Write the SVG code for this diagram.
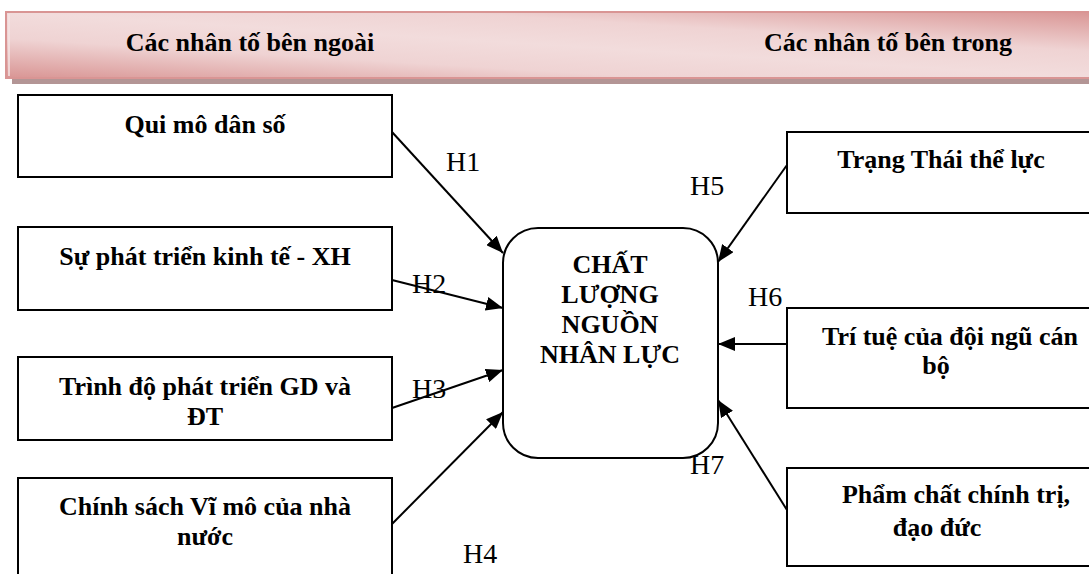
<svg xmlns="http://www.w3.org/2000/svg" width="1089" height="574" viewBox="0 0 1089 574">
<defs>
<linearGradient id="hdr" x1="0" y1="1" x2="1" y2="0">
<stop offset="0" stop-color="#d99594"/>
<stop offset="0.3" stop-color="#efd3d3"/>
<stop offset="0.5" stop-color="#f2dcdc"/>
<stop offset="0.7" stop-color="#efd3d3"/>
<stop offset="1" stop-color="#d99594"/>
</linearGradient>
<marker id="ah" markerUnits="userSpaceOnUse" markerWidth="18" markerHeight="14" refX="17" refY="7" orient="auto">
<path d="M0,0 L17,7 L0,14 Z" fill="#000"/>
</marker>
</defs>
<style>
.box{fill:#fff;stroke:#000;stroke-width:2}
text{font-family:'Liberation Serif','Times New Roman','DejaVu Serif',serif;fill:#000}
.t{font-weight:bold;font-size:26px;text-anchor:middle}
.h{font-size:28px}
.c line{stroke:#000;stroke-width:2;marker-end:url(#ah)}
</style>
<rect width="1089" height="574" fill="#fff"/>
<g id="header">
<rect x="12" y="17" width="1090" height="67" fill="#b39595"/>
<rect x="6" y="12" width="1090" height="66" fill="url(#hdr)" stroke="#d99594" stroke-width="2"/>
<line x1="9" y1="14" x2="9" y2="76" stroke="#f6e4e4" stroke-width="1.5"/>
<text class="t" x="250" y="51">Các nhân tố bên ngoài</text>
<text class="t" x="888" y="51">Các nhân tố bên trong</text>
</g>
<g id="n1">
<rect class="box" x="18" y="95" width="374" height="82"/>
<text class="t" x="205" y="133">Qui mô dân số</text>
</g>
<g id="n2">
<rect class="box" x="18" y="227" width="374" height="83"/>
<text class="t" x="205" y="265">Sự phát triển kinh tế - XH</text>
</g>
<g id="n3">
<rect class="box" x="18" y="357" width="374" height="83"/>
<text class="t" x="205" y="395">Trình độ phát triển GD và</text>
<text class="t" x="205" y="425">ĐT</text>
</g>
<g id="n4">
<rect class="box" x="18" y="478" width="374" height="120"/>
<text class="t" x="205" y="515">Chính sách Vĩ mô của nhà</text>
<text class="t" x="205" y="545">nước</text>
</g>
<g id="center">
<rect class="box" x="503" y="228" width="215" height="230" rx="35" ry="35"/>
<text class="t" x="610" y="273">CHẤT</text>
<text class="t" x="610" y="303">LƯỢNG</text>
<text class="t" x="610" y="333">NGUỒN</text>
<text class="t" x="610" y="363">NHÂN LỰC</text>
</g>
<g id="n5">
<rect class="box" x="787" y="132" width="310" height="81"/>
<text class="t" x="941" y="168">Trạng Thái thể lực</text>
</g>
<g id="n6">
<rect class="box" x="787" y="308" width="310" height="100"/>
<text class="t" x="950" y="345">Trí tuệ của đội ngũ cán</text>
<text class="t" x="936" y="374">bộ</text>
</g>
<g id="n7">
<rect class="box" x="787" y="468" width="310" height="98"/>
<text class="t" x="956" y="503">Phẩm chất chính trị,</text>
<text class="t" x="937" y="536">đạo đức</text>
</g>
<g id="connectors" class="c">
<line x1="392" y1="132" x2="503" y2="253"/>
<line x1="392" y1="280" x2="503" y2="308"/>
<line x1="392" y1="408" x2="503" y2="370"/>
<line x1="392" y1="524" x2="503" y2="412"/>
<line x1="787" y1="165" x2="718" y2="262"/>
<line x1="787" y1="344" x2="718" y2="344"/>
<line x1="787" y1="510" x2="718" y2="400"/>
</g>
<g id="labels">
<text class="h" x="446" y="171">H1</text>
<text class="h" x="412" y="293">H2</text>
<text class="h" x="412" y="398">H3</text>
<text class="h" x="463" y="563">H4</text>
<text class="h" x="690" y="195">H5</text>
<text class="h" x="748" y="306">H6</text>
<text class="h" x="690" y="474">H7</text>
</g>
</svg>
